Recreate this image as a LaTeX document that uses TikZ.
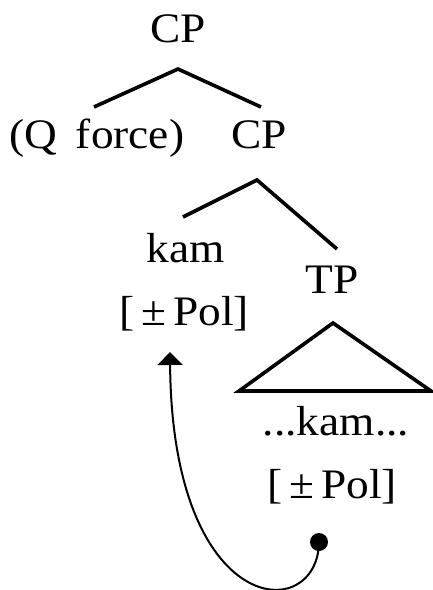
\documentclass[tikz,border=0pt]{standalone}
\usepackage{fontspec}
\setmainfont{Liberation Serif}[FakeStretch=1.08]
\usetikzlibrary{arrows.meta}
\begin{document}
\begin{tikzpicture}[x=1pt,y=-1pt,
  lab/.style={anchor=base,inner sep=0pt,font=\fontsize{42}{48}\selectfont},
  branch/.style={line width=3.6pt},
  move/.style={line width=2pt,-{Triangle[width=25pt,length=13pt]}}]
\useasboundingbox (0,0) rectangle (433,590);
\node[lab] (cp1) at (178,42) {CP};
\node[lab] (qf) at (97,148) {(Q\,\ force)};
\node[lab] (cp2) at (259,148) {CP};
\node[lab] (kam) at (186,262) {kam};
\node[lab] (tp) at (332,293) {TP};
\node[lab] (f1) at (184,325) {[\,±\,Pol]};
\node[lab] (kam2) at (336,435) {...kam...};
\node[lab] (f2) at (332,498) {[\,±\,Pol]};
% branches
\coordinate (a1) at (178,69);
\coordinate (l1) at (94,107);
\coordinate (r1) at (261,107);
\draw[branch] (l1) -- (a1) -- (r1);
\coordinate (a2) at (257,180);
\coordinate (l2) at (183,217);
\coordinate (r2) at (337,249);
\draw[branch] (l2) -- (a2) -- (r2);
% triangle
\coordinate (ta) at (333,323);
\coordinate (tl) at (239,391);
\coordinate (tr) at (431,391);
\draw[branch,line join=miter] (ta) -- (tl) -- (tr) -- cycle;
% movement
\node[circle,fill,inner sep=0pt,minimum size=18pt] (dot) at (319,542) {};
\coordinate (tip) at (170,352);
\draw[move] (dot.center) .. controls (318,625) and (172,620) .. (tip);
\end{tikzpicture}
\end{document}
